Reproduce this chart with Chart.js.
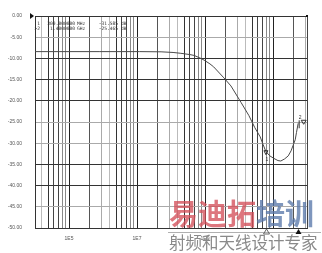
<!DOCTYPE html>
<html>
<head>
<meta charset="utf-8">
<script src="https://cdn.jsdelivr.net/npm/chart.js@4.4.1/dist/chart.umd.min.js"></script>
<style>
  html, body { margin: 0; padding: 0; background: #fff; }
  #wrap { width: 322px; height: 253px; }
</style>
</head>
<body>
<div id="wrap"><canvas id="s21Chart" width="322" height="253"></canvas></div>
<script>
// trace (x in Hz on the axis as labelled, y in dB)
var freqHz = [1e4, 5.4e4, 8.1e5, 1.2e7, 5.1e7, 1.15e8, 1.95e8, 3.6e8,
              4.8e8, 7.1e8, 9.4e8, 1.4e9, 1.8e9, 3.6e9, 5.8e9, 1.15e10,
              1.96e10, 2.9e10, 4.2e10, 5.1e10, 6.2e10, 8.1e10, 1.07e11, 1.4e11,
              1.7e11, 2.2e11, 2.8e11, 3.4e11, 3.9e11, 4.5e11, 4.9e11, 5.5e11];
var magDb = [-8.4, -8.4, -8.4, -8.4, -8.45, -8.6, -8.8, -9.1,
             -9.3, -9.9, -10.4, -11.3, -12.0, -14.6, -16.5, -20.4,
             -23.5, -26.3, -28.5, -30.3, -32.0, -33.0, -33.6, -34.1,
             -34.2, -33.7, -33.0, -31.8, -30.5, -29.2, -27.5, -25.3];

var yTicks = [0, -5, -10, -15, -20, -25, -30, -35, -40, -45, -50];
var yDarkTicks = [0, -10, -15, -20, -35, -40, -50];
var xLabelValues = [1e5, 1e7, 1e9];
var xTickLabels = ['1E5', '1E7', '1E9'];

// marker readout
var markerIds = ['1', '>2'];
var markerFreqs = ['300.000000', '1.4000000'];
var markerUnits = ['MHz', 'GHz'];
var markerVals = ['-31.585', '-25.465'];
var markerIdx = [20, 31];

// graticule: 1..9 steps (squared) in each two-decade cell
var gridBases = [1e3, 1e5, 1e7, 1e9, 1e11];
var gridSteps = [1, 2, 3, 4, 5, 6, 7, 8, 9];
var stepShade = ['#222', '#555', '#aaa', '#bbb', '#333', '#444', '#444', '#888', '#888'];
var gridValues = [], gridShades = [];
gridBases.forEach(function(b) {
    gridSteps.forEach(function(m, i) {
        var v = b * m * m;
        if (v > 1e4 && v < 1e12) { gridValues.push(v); gridShades.push(stepShade[i]); }
    });
});
gridValues.push(1e12); gridShades.push('#444');

var overlay = {
    id: 'overlay',
    afterDraw: function(chart) {
        var c = chart.ctx, a = chart.chartArea;
        var xs = chart.scales.x, ys = chart.scales.y;
        c.save();

        // reference arrow and corner dot
        c.fillStyle = '#111';
        c.beginPath();
        c.moveTo(a.left - 5, a.top - 3); c.lineTo(a.left - 1, a.top); c.lineTo(a.left - 5, a.top + 3);
        c.closePath(); c.fill();
        c.fillRect(a.right - 1, a.top - 1, 2, 2);

        // readout table
        c.font = '4.6px "DejaVu Sans Mono", monospace';
        c.fillStyle = '#333';
        c.textBaseline = 'middle';
        for (var i = 0; i < markerIds.length; i++) {
            var ty = a.top + 8 + i * 5;
            c.textAlign = 'right';
            c.fillText(markerIds[i], a.left + 5, ty);
            c.fillText(markerFreqs[i], a.left + 40, ty);
            c.fillText(markerVals[i], a.left + 83, ty);
            c.textAlign = 'left';
            c.fillText(markerUnits[i], a.left + 42, ty);
            c.fillText('dB', a.left + 86, ty);
        }

        // markers on trace and on the stimulus axis
        c.strokeStyle = '#333'; c.lineWidth = 1;
        c.font = '5px "Liberation Sans", sans-serif';
        markerIdx.forEach(function(k, n) {
            var px = xs.getPixelForValue(freqHz[k]);
            var py = ys.getPixelForValue(magDb[k]);
            c.textAlign = 'center';
            if (n === 0) {
                c.beginPath();
                c.moveTo(px - 2, py - 1); c.lineTo(px + 2, py - 1); c.lineTo(px, py + 3);
                c.closePath(); c.stroke();
                c.fillText('1', px + 1, py + 8);
            } else {
                c.fillText('2', px + 2, py - 6);
                c.beginPath();
                c.moveTo(px + 3, py - 3); c.lineTo(px + 8, py - 3); c.lineTo(px + 5.5, py + 1);
                c.closePath(); c.stroke();
                c.beginPath(); c.moveTo(px + 1, py - 3); c.lineTo(px + 1, py + 5); c.stroke();
            }
        });

        // watermark
        c.textAlign = 'left';
        c.textBaseline = 'middle';
        c.font = 'bold 29px "Noto Sans CJK SC"';
        c.fillStyle = 'rgba(212,80,90,0.78)';
        c.fillText('易迪拓', 169, 214);
        c.fillStyle = 'rgba(90,120,170,0.78)';
        c.fillText('培训', 256, 214);
        c.strokeStyle = '#b0b0b0';
        c.beginPath(); c.moveTo(168, 232.5); c.lineTo(321, 232.5); c.stroke();
        c.font = '16.5px "Noto Sans CJK SC"';
        c.fillStyle = '#8a8a8a';
        c.fillText('射频和天线设计专家', 169, 243);

        // stimulus markers along the bottom
        markerIdx.forEach(function(k, n) {
            var px = Math.round(xs.getPixelForValue(freqHz[k])) + 0.5;
            c.beginPath();
            c.moveTo(px - 3, a.bottom + 6); c.lineTo(px + 3, a.bottom + 6); c.lineTo(px, a.bottom + 1);
            c.closePath();
            if (n === 0) { c.strokeStyle = '#666'; c.stroke(); }
            else { c.fillStyle = '#111'; c.fill(); }
        });
        c.restore();
    }
};

new Chart(document.getElementById('s21Chart'), {
    type: 'line',
    data: {
        datasets: [{
            data: freqHz.map(function(f, i) { return { x: f, y: magDb[i] }; }),
            borderColor: '#4a4a4a',
            borderWidth: 1,
            pointRadius: 0,
            tension: 0,
            fill: false
        }]
    },
    options: {
        responsive: false,
        animation: false,
        devicePixelRatio: 1,
        layout: { padding: { left: 0, right: 15, top: 12, bottom: 0 } },
        plugins: { legend: { display: false }, tooltip: { enabled: false } },
        scales: {
            x: {
                type: 'logarithmic',
                min: 1e4, max: 1e12,
                afterBuildTicks: function(s) { s.ticks = gridValues.map(function(v) { return { value: v }; }); },
                afterFit: function(s) { s.height = 25; },
                grid: {
                    drawTicks: false,
                    lineWidth: 1,
                    color: function(ctx) { return gridShades[ctx.index] || '#888'; }
                },
                border: { display: true, color: '#333' },
                ticks: {
                    autoSkip: false, maxRotation: 0, padding: 8,
                    color: '#555',
                    font: { family: '"Liberation Sans Narrow", "Liberation Sans", sans-serif', size: 5 },
                    callback: function(v) {
                        var j = xLabelValues.indexOf(v);
                        return j >= 0 ? xTickLabels[j] : '';
                    }
                }
            },
            y: {
                min: -50, max: 0,
                afterBuildTicks: function(s) { s.ticks = yTicks.map(function(v) { return { value: v }; }); },
                afterFit: function(s) { s.width = 35; },
                grid: {
                    drawTicks: false,
                    lineWidth: 1,
                    color: function(ctx) { return yDarkTicks.indexOf(ctx.tick.value) >= 0 ? '#333' : '#aaa'; }
                },
                border: { display: true, color: '#333' },
                ticks: {
                    padding: 13,
                    color: '#555',
                    font: { family: '"Liberation Sans Narrow", "Liberation Sans", sans-serif', size: 5 },
                    callback: function(v) { return Number(v).toFixed(2); }
                }
            }
        }
    },
    plugins: [overlay]
});
</script>
</body>
</html>
